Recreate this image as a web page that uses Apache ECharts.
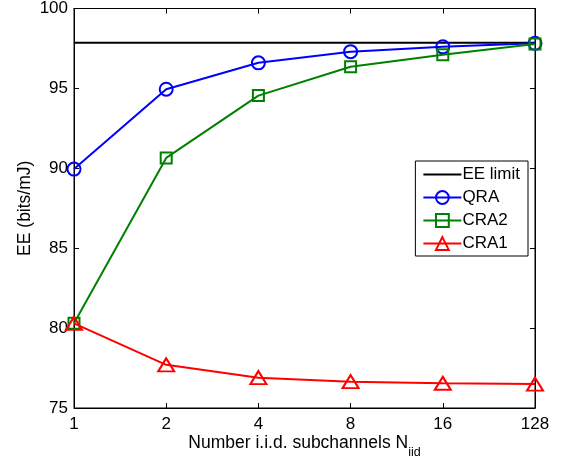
<!DOCTYPE html>
<html><head><meta charset="utf-8">
<script src="https://cdn.jsdelivr.net/npm/echarts@6/dist/echarts.min.js"></script>
<style>html,body{margin:0;padding:0;background:#fff}#c{width:564px;height:464px}</style>
</head><body><div id="c"></div>
<script>
const categories = ['1','2','4','8','16','128'];
const eeLimit = [97.85, 97.85, 97.85, 97.85, 97.85, 97.85];
const qra = [89.95, 94.95, 96.6, 97.3, 97.6, 97.82];
const cra2 = [80.3, 90.65, 94.55, 96.35, 97.1, 97.78];
const cra1 = [80.3, 77.7, 76.9, 76.65, 76.55, 76.5];
const yTicks = {min: 75, max: 100, interval: 5};

const font = 'Liberation Sans, Arial, sans-serif';
const chart = echarts.init(document.getElementById('c'), null, {renderer: 'canvas'});
chart.setOption({
  animation: false,
  backgroundColor: '#fff',
  grid: {left: 74, right: 29, top: 7, bottom: 56, show: true, borderColor: '#000', borderWidth: 1},
  legend: {
    right: 36, top: 161, orient: 'vertical', itemGap: 6,
    itemWidth: 38, itemHeight: 16,
    backgroundColor: '#fff', borderColor: '#000', borderWidth: 1,
    padding: [5, 8, 4, 7],
    textStyle: {fontFamily: font, fontSize: 17, color: '#000', padding: [0,0,0,-4]},
    data: [
      {name: 'EE limit', itemStyle: {color: 'rgba(0,0,0,0)', borderWidth: 0}},
      'QRA', 'CRA2', 'CRA1']
  },
  xAxis: [{
    type: 'category', data: categories, boundaryGap: false,
    axisLine: {lineStyle: {color: '#000'}},
    axisTick: {inside: true, length: 5, lineStyle: {color: '#000'}},
    axisLabel: {fontFamily: font, fontSize: 17, color: '#000', margin: 8},
    name: 'Number i.i.d. subchannels N{s|iid}', nameLocation: 'middle', nameGap: 20,
    nameMoveOverlap: false,
    nameTextStyle: {fontFamily: font, fontSize: 17.5, color: '#000',
      rich: {s: {fontFamily: font, fontSize: 12.5, color: '#000', padding: [18, 0, 0, 0]}}}
  }, {
    type: 'category', data: categories, boundaryGap: false, position: 'top',
    axisLine: {lineStyle: {color: '#000'}},
    axisTick: {inside: true, length: 5, lineStyle: {color: '#000'}},
    axisLabel: {show: false}
  }],
  yAxis: [{
    type: 'value', min: yTicks.min, max: yTicks.max, interval: yTicks.interval,
    splitLine: {show: false},
    axisLine: {show: true, lineStyle: {color: '#000'}},
    axisTick: {show: true, inside: true, length: 5, lineStyle: {color: '#000'}},
    axisLabel: {fontFamily: font, fontSize: 17, color: '#000', margin: 6},
    name: 'EE (bits/mJ)', nameLocation: 'middle', nameGap: 40,
    nameMoveOverlap: false,
    nameTextStyle: {fontFamily: font, fontSize: 17.5, color: '#000'}
  }, {
    type: 'value', min: yTicks.min, max: yTicks.max, interval: yTicks.interval, position: 'right',
    splitLine: {show: false},
    axisLine: {show: true, lineStyle: {color: '#000'}},
    axisTick: {show: true, inside: true, length: 5, lineStyle: {color: '#000'}},
    axisLabel: {show: false}
  }],
  series: [
    {name: 'EE limit', type: 'line', data: eeLimit, showSymbol: false, symbol: 'none',
      lineStyle: {color: '#000', width: 2}, itemStyle: {color: '#000'}, z: 3},
    {name: 'QRA', type: 'line', data: qra, symbol: 'circle', symbolSize: 13,
      lineStyle: {color: '#0000ff', width: 2},
      itemStyle: {color: 'rgba(255,255,255,0)', borderColor: '#0000ff', borderWidth: 2}, z: 4},
    {name: 'CRA2', type: 'line', data: cra2, symbol: 'rect', symbolSize: 11,
      lineStyle: {color: '#008000', width: 2},
      itemStyle: {color: 'rgba(255,255,255,0)', borderColor: '#008000', borderWidth: 2}, z: 5},
    {name: 'CRA1', type: 'line', data: cra1, symbol: 'triangle', symbolSize: [16, 13],
      lineStyle: {color: '#ff0000', width: 2},
      itemStyle: {color: 'rgba(255,255,255,0)', borderColor: '#ff0000', borderWidth: 2}, z: 6}
  ]
});
</script></body></html>
